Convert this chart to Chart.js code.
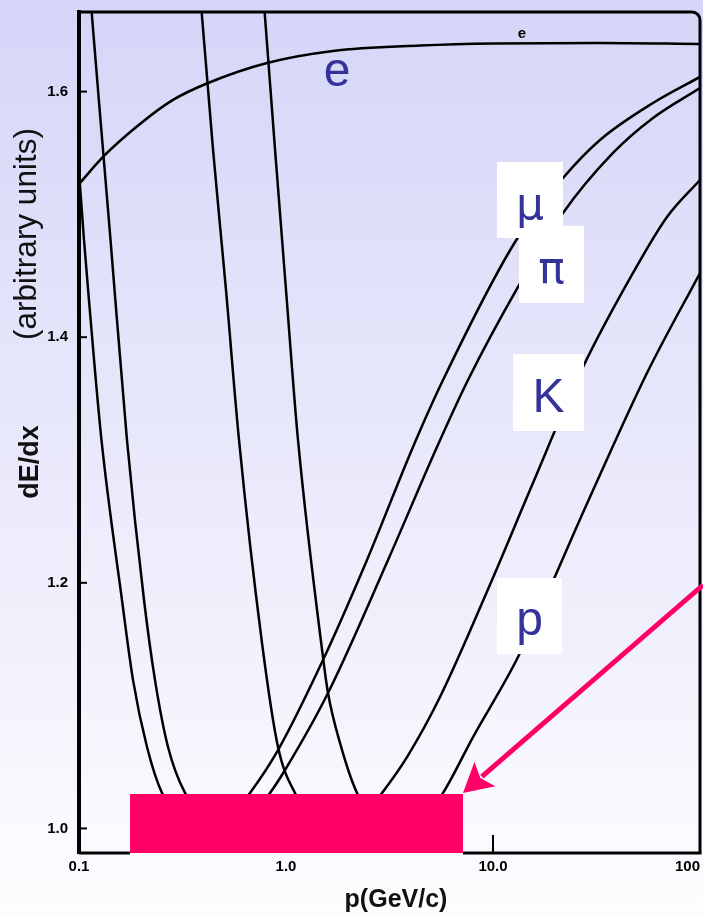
<!DOCTYPE html>
<html>
<head>
<meta charset="utf-8">
<script src="https://cdn.jsdelivr.net/npm/chart.js@4.4.1/dist/chart.umd.min.js"></script>
<style>
  html, body { margin: 0; padding: 0; width: 703px; height: 916px; overflow: hidden; }
  body { background: linear-gradient(to bottom, #d5d5f8 0%, #e9e9fb 50%, #fdfdff 100%); }
  canvas { display: block; }
</style>
</head>
<body>
<canvas id="chart" width="703" height="916"></canvas>
<script>
// Momentum axis (GeV/c), logarithmic
const xTickValues = [0.1, 1, 10, 100];
const xTickLabels = ['0.1', '1.0', '10.0', '100'];
// Energy loss axis (arbitrary units)
const yTickValues = [1.0, 1.2, 1.4, 1.6];
const yTickLabels = ['1.0', '1.2', '1.4', '1.6'];

// Electron
const electronP    = [0.1, 0.1335, 0.197, 0.2844, 0.4201, 0.8094, 1.687, 4.439, 10, 32.88, 100];
const electronDEdx = [1.5248, 1.5484, 1.5736, 1.5932, 1.607, 1.6233, 1.6331, 1.6375, 1.6392, 1.6396, 1.6388];

// Muon
const muonP    = [0.1, 0.1057, 0.1117, 0.1284, 0.1613, 0.1824, 0.2131, 0.2518, 0.32, 0.41, 0.53,
                  0.67, 0.915, 1.5087, 2.462, 4.107, 5.735, 12.78, 21.79, 32.88, 59.29, 100];
const muonDEdx = [1.5345, 1.4792, 1.4303, 1.3163, 1.186, 1.1208, 1.0663, 1.0289, 1.008, 1.0, 1.008,
                  1.0289, 1.0638, 1.1371, 1.2186, 1.3106, 1.3651, 1.4775, 1.5296, 1.5606, 1.5907, 1.6119];

// Pion
const pionP    = [0.1081, 0.1152, 0.131, 0.142, 0.1705, 0.2061, 0.2329, 0.2692, 0.3252, 0.42, 0.52, 0.66,
                  0.837, 0.989, 1.5955, 3.111, 5.363, 7.573, 13.21, 21.79, 37.99, 59.29, 100];
const pionDEdx = [1.729, 1.664, 1.55, 1.4792, 1.3163, 1.186, 1.1208, 1.0663, 1.0289, 1.008, 1.0, 1.008,
                  1.0289, 1.0476, 1.1103, 1.2186, 1.3106, 1.3651, 1.4409, 1.5011, 1.55, 1.5785, 1.6029];

// Kaon
const kaonP    = [0.3674, 0.3916, 0.4439, 0.513, 0.5929, 0.7658, 0.915, 1.105, 1.4, 1.8, 2.3,
                  2.91, 3.842, 5.546, 9.89, 15.09, 27.22, 47.47, 69.28, 100];
const kaonDEdx = [1.729, 1.664, 1.5532, 1.4385, 1.3163, 1.151, 1.0663, 1.0289, 1.008, 1.0, 1.008,
                  1.0289, 1.0581, 1.107, 1.2023, 1.2756, 1.3757, 1.4523, 1.4979, 1.528];

// Proton
const protonP    = [0.7365, 0.7918, 0.8849, 1.0, 1.1428, 1.5087, 1.5955, 1.8234, 2.2029, 2.75, 3.55, 4.6,
                    5.735, 8.007, 13.21, 29.42, 55.46, 100];
const protonDEdx = [1.734, 1.6607, 1.5532, 1.4385, 1.3163, 1.1396, 1.1103, 1.0696, 1.0289, 1.008, 1.0, 1.008,
                    1.0289, 1.0744, 1.1396, 1.2699, 1.3708, 1.4523];

// Momentum band highlighted along the bottom of the plot
const highlightP    = [0.1764, 7.16];
const highlightDEdx = [1.028, 1.028];

const PINK = '#ff0066';
const LABEL_BLUE = '#333399';

// Curve labels, anchored in data coordinates (box = [pMin, pMax, dEdxMin, dEdxMax])
const curveLabels = [
  { text: 'e', p: 1.764, dEdx: 1.6042, font: '48px "Liberation Sans"', color: LABEL_BLUE },
  { text: 'μ', p: 15.09, dEdx: 1.4963, font: '44px "DejaVu Sans"', color: LABEL_BLUE, box: [10.45, 21.79, 1.4808, 1.5427] },
  { text: 'π', p: 19.17, dEdx: 1.4441, font: '44px "DejaVu Sans"', color: LABEL_BLUE, box: [13.36, 27.52, 1.4279, 1.4906] },
  { text: 'K', p: 18.54, dEdx: 1.3391, font: '48px "Liberation Sans"', color: LABEL_BLUE, box: [12.50, 27.52, 1.3236, 1.3863] },
  { text: 'p', p: 15.01, dEdx: 1.1575, font: '48px "Liberation Sans"', color: LABEL_BLUE, box: [10.45, 21.54, 1.142, 1.2039] },
  { text: 'e', p: 13.8, dEdx: 1.6436, font: 'bold 15px "Liberation Sans"', color: '#000' }
];

// Arrow pointing at the highlighted band
const arrowFrom = [103.4, 1.1982];
const arrowTo   = [7.161, 1.0288];

function toPoints(xs, ys) {
  return xs.map((v, i) => ({ x: v, y: ys[i] }));
}

function curve(label, xs, ys, width) {
  return {
    label,
    data: toPoints(xs, ys),
    borderColor: '#000',
    borderWidth: width,
    pointRadius: 0,
    fill: false,
    cubicInterpolationMode: 'monotone',
    order: 1
  };
}

const frameAndTicks = {
  id: 'frameAndTicks',
  beforeDatasetsDraw(chart) {
    const { ctx, chartArea: a, scales: { x, y } } = chart;
    ctx.save();
    ctx.strokeStyle = '#000';
    ctx.lineCap = 'butt';
    // inward tick marks
    ctx.lineWidth = 2;
    y.ticks.forEach(t => {
      const py = y.getPixelForValue(t.value);
      ctx.beginPath(); ctx.moveTo(a.left, py); ctx.lineTo(a.left + 8, py); ctx.stroke();
    });
    x.ticks.forEach(t => {
      const px = x.getPixelForValue(t.value);
      ctx.beginPath(); ctx.moveTo(px, a.bottom); ctx.lineTo(px, a.bottom - 18); ctx.stroke();
    });
    // top and right edges with a rounded corner
    ctx.lineWidth = 3;
    const r = 8;
    ctx.beginPath();
    ctx.moveTo(a.left, a.top);
    ctx.lineTo(a.right - r, a.top);
    ctx.arcTo(a.right, a.top, a.right, a.top + r, r);
    ctx.lineTo(a.right, a.bottom);
    ctx.stroke();
    // bottom edge, left open where the highlighted band sits
    const b0 = x.getPixelForValue(highlightP[0]);
    const b1 = x.getPixelForValue(highlightP[1]);
    ctx.beginPath();
    ctx.moveTo(a.left, a.bottom); ctx.lineTo(b0, a.bottom);
    ctx.moveTo(b1, a.bottom); ctx.lineTo(a.right + 1.5, a.bottom);
    ctx.stroke();
    ctx.restore();
  }
};

const annotations = {
  id: 'annotations',
  afterDatasetsDraw(chart) {
    const { ctx, scales: { x, y } } = chart;
    ctx.save();
    // white label boxes
    ctx.fillStyle = '#ffffff';
    curveLabels.forEach(l => {
      if (!l.box) return;
      const x0 = x.getPixelForValue(l.box[0]), x1 = x.getPixelForValue(l.box[1]);
      const y0 = y.getPixelForValue(l.box[3]), y1 = y.getPixelForValue(l.box[2]);
      ctx.fillRect(x0, y0, x1 - x0, y1 - y0);
    });
    // label glyphs
    ctx.textAlign = 'center';
    ctx.textBaseline = 'alphabetic';
    curveLabels.forEach(l => {
      ctx.font = l.font;
      ctx.fillStyle = l.color;
      ctx.fillText(l.text, x.getPixelForValue(l.p), y.getPixelForValue(l.dEdx));
    });
    // arrow
    const sx = x.getPixelForValue(arrowFrom[0]), sy = y.getPixelForValue(arrowFrom[1]);
    const tx = x.getPixelForValue(arrowTo[0]),   ty = y.getPixelForValue(arrowTo[1]);
    const len = Math.hypot(sx - tx, sy - ty);
    const ux = (sx - tx) / len, uy = (sy - ty) / len;
    const head = 29, half = 16;
    ctx.strokeStyle = PINK;
    ctx.fillStyle = PINK;
    ctx.lineWidth = 5;
    ctx.beginPath();
    ctx.moveTo(sx, sy);
    ctx.lineTo(tx + ux * (head - 4), ty + uy * (head - 4));
    ctx.stroke();
    ctx.beginPath();
    ctx.moveTo(tx, ty);
    ctx.lineTo(tx + ux * head - uy * half, ty + uy * head + ux * half);
    ctx.lineTo(tx + ux * (head - 6), ty + uy * (head - 6));
    ctx.lineTo(tx + ux * head + uy * half, ty + uy * head - ux * half);
    ctx.closePath();
    ctx.fill();
    ctx.restore();
  },
  afterDraw(chart) {
    const { ctx } = chart;
    ctx.save();
    ctx.fillStyle = '#111';
    ctx.textAlign = 'center';
    ctx.textBaseline = 'alphabetic';
    // y axis titles
    ctx.save();
    ctx.translate(38, 462);
    ctx.rotate(-Math.PI / 2);
    ctx.font = 'bold 27px "Liberation Sans"';
    ctx.fillText('dE/dx', 0, 0);
    ctx.restore();
    ctx.save();
    ctx.translate(35.5, 234);
    ctx.rotate(-Math.PI / 2);
    ctx.font = '31.5px "Liberation Sans"';
    ctx.fillText('(arbitrary units)', 0, 0);
    ctx.restore();
    // x axis title
    ctx.font = 'bold 25px "Liberation Sans"';
    ctx.fillText('p(GeV/c)', 396, 907);
    ctx.restore();
  }
};

const tickFont = { family: 'Liberation Sans', size: 15, weight: 'bold' };

new Chart(document.getElementById('chart'), {
  type: 'line',
  data: {
    datasets: [
      {
        label: 'band',
        data: toPoints(highlightP, highlightDEdx),
        borderWidth: 0,
        pointRadius: 0,
        backgroundColor: PINK,
        fill: 'start',
        order: 0
      },
      curve('e', electronP, electronDEdx, 2.6),
      curve('μ', muonP, muonDEdx, 2.5),
      curve('π', pionP, pionDEdx, 2.5),
      curve('K', kaonP, kaonDEdx, 2.5),
      curve('p', protonP, protonDEdx, 2.5)
    ]
  },
  options: {
    responsive: false,
    animation: false,
    devicePixelRatio: 1,
    events: [],
    layout: { padding: { left: 0, right: 3, top: 12, bottom: 0 }, autoPadding: false },
    plugins: { legend: { display: false }, tooltip: { enabled: false } },
    scales: {
      x: {
        type: 'logarithmic',
        min: 0.1,
        max: 100,
        afterBuildTicks: s => { s.ticks = xTickValues.map(v => ({ value: v })); },
        afterFit: s => {
          s.height = 63;
          s.paddingLeft = 0; s.paddingRight = 0; s.paddingTop = 0; s.paddingBottom = 0;
        },
        grid: { display: false, drawTicks: false },
        border: { display: false },
        ticks: {
          padding: 5,
          color: '#000',
          font: tickFont,
          autoSkip: false,
          maxRotation: 0,
          // the last label is right-aligned to the frame corner
          callback: (v, i) => i === xTickLabels.length - 1 ? xTickLabels[i] + '      ' : xTickLabels[i]
        }
      },
      y: {
        type: 'linear',
        min: 0.98,
        max: 1.6648,
        afterBuildTicks: s => { s.ticks = yTickValues.map(v => ({ value: v })); },
        afterFit: s => {
          s.width = 79;
          s.paddingLeft = 0; s.paddingRight = 0; s.paddingTop = 0; s.paddingBottom = 0;
        },
        grid: { display: false, drawTicks: false },
        border: { display: true, color: '#000', width: 4 },
        ticks: {
          padding: 11,
          color: '#000',
          font: tickFont,
          callback: (v, i) => yTickLabels[i]
        }
      }
    }
  },
  plugins: [frameAndTicks, annotations]
});
</script>
</body>
</html>
